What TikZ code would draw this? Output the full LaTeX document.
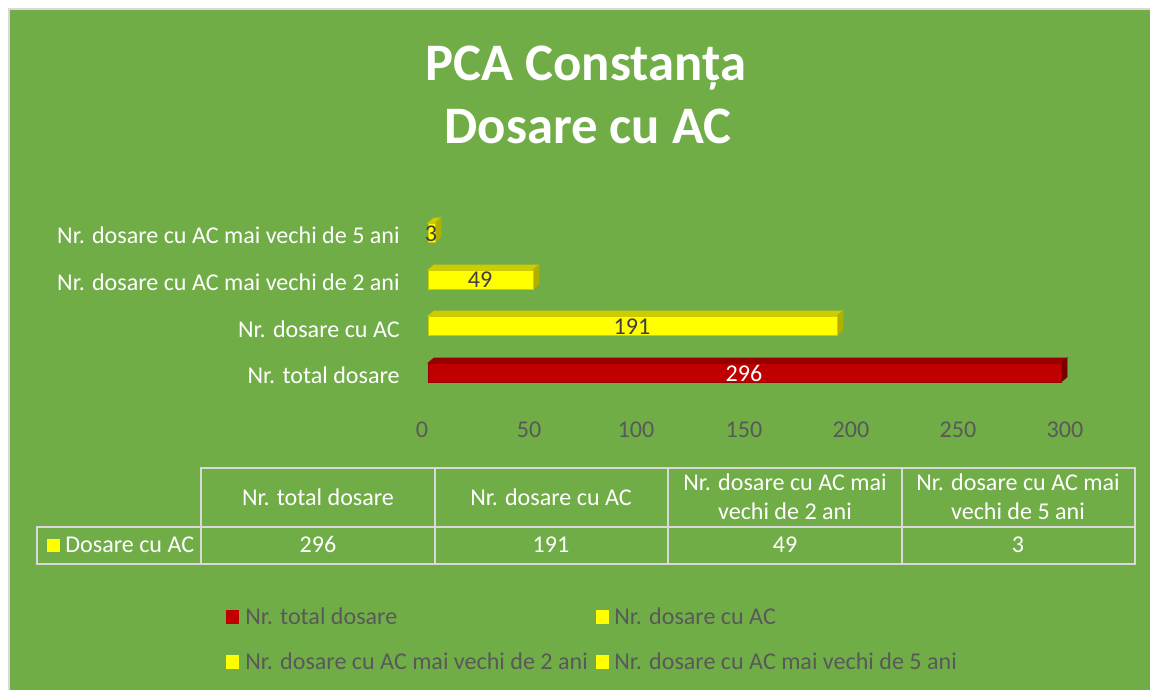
\documentclass[tikz,border=0pt]{standalone}
\usepackage{fontspec}
\setmainfont{Carlito}
\usetikzlibrary{calc}
\definecolor{chartgreen}{HTML}{70AD47}
\definecolor{framegray}{HTML}{D9D9D9}
\definecolor{axisgray}{HTML}{595959}
\definecolor{valgray}{HTML}{404040}
\definecolor{barred}{HTML}{C00000}
\definecolor{barredtop}{HTML}{960000}
\definecolor{barredside}{HTML}{7A0000}
\definecolor{baryellow}{HTML}{FFFF00}
\definecolor{baryellowtop}{HTML}{CCCC00}
\definecolor{baryellowside}{HTML}{B0B000}
% 3D bar: [front:top:side](y of top edge)(x of right edge)
\def\barbox[#1:#2:#3](#4)(#5){
	\draw[fill=#2, draw=#2] (428,#4) -- (434,#4-5) -- (#5+6,#4-5) -- (#5,#4) -- cycle;
	\draw[fill=#3, draw=#3] (#5,#4) -- (#5+6,#4-5) -- (#5+6,#4+14) -- (#5,#4+19) -- cycle;
	\draw[fill=#1, draw=#2] (428,#4) rectangle (#5,#4+19);
}
\tikzset{
	catlabel/.style={anchor=base east, text=white, font=\fontsize{13.7}{16}\selectfont, inner sep=0pt},
	ticklabel/.style={anchor=base, text=axisgray, font=\fontsize{13.7}{16}\selectfont, inner sep=0pt},
	vallabel/.style={anchor=base, text=valgray, font=\fontsize{13.7}{16}\selectfont, inner sep=0pt},
	celltext/.style={text=white, font=\fontsize{13.7}{16.4}\selectfont, align=center, inner sep=0pt},
	datatext/.style={anchor=base, text=white, font=\fontsize{13.7}{16}\selectfont, inner sep=0pt},
	legtext/.style={anchor=west, text=axisgray, font=\fontsize{13.7}{16}\selectfont, inner sep=0pt},
	titletext/.style={anchor=base, text=white, font=\fontsize{30}{36}\selectfont\bfseries, inner sep=0pt}
}
\begin{document}
\begin{tikzpicture}[x=0.02cm, y=-0.02cm]
			%%%%% START %%%%%
			
			\useasboundingbox (0,0) rectangle (1150,690);
			\fill[white] (0,0) rectangle (1150,690);
			\draw[fill=chartgreen, draw=framegray, line width=0.8pt] (9,9) rectangle (1152,692);
			
			% title
			\node[titletext] (title1) at (586,80) {PCA Constanța};
			\node[titletext] (title2) at (588,143) {Dosare cu AC};
			
			% bars
			\barbox[baryellow:baryellowtop:baryellowside](223)(435);
			\barbox[baryellow:baryellowtop:baryellowside](270)(533);
			\barbox[baryellow:baryellowtop:baryellowside](316)(837);
			\barbox[barred:barredtop:barredside](363)(1061);
			
			\node[vallabel] (val5) at (431,241) {3};
			\node[vallabel] (val2) at (480,287) {49};
			\node[vallabel] (valac) at (632,334) {191};
			\node[vallabel, text=white] (valtot) at (744,381) {296};
			
			% categories
			\node[catlabel] (cat5) at (400,243) {Nr. dosare cu AC mai vechi de 5 ani};
			\node[catlabel] (cat2) at (400,290) {Nr. dosare cu AC mai vechi de 2 ani};
			\node[catlabel] (catac) at (400,337) {Nr. dosare cu AC};
			\node[catlabel] (cattot) at (400,383) {Nr. total dosare};
			
			% axis
			\node[ticklabel] (t0) at (422,437) {0};
			\node[ticklabel] (t50) at (529,437) {50};
			\node[ticklabel] (t100) at (636,437) {100};
			\node[ticklabel] (t150) at (744,437) {150};
			\node[ticklabel] (t200) at (851,437) {200};
			\node[ticklabel] (t250) at (958,437) {250};
			\node[ticklabel] (t300) at (1065,437) {300};
			
			% data table
			\draw[framegray, line width=0.9pt] (201,468) rectangle (1135,527);
			\draw[framegray, line width=0.9pt] (37,527) rectangle (1135,564);
			\draw[framegray, line width=0.9pt] (201,527) -- (201,564);
			\draw[framegray, line width=0.9pt] (435,468) -- (435,564);
			\draw[framegray, line width=0.9pt] (668,468) -- (668,564);
			\draw[framegray, line width=0.9pt] (902,468) -- (902,564);
			
			\node[celltext] (h1) at (318,497) {Nr. total dosare};
			\node[celltext] (h2) at (551,497) {Nr. dosare cu AC};
			\node[celltext] (h3) at (785,497) {Nr. dosare cu AC mai\\vechi de 2 ani};
			\node[celltext] (h4) at (1018,497) {Nr. dosare cu AC mai\\vechi de 5 ani};
			
			\draw[fill=baryellow, draw=baryellow] (47,539) rectangle (59,551);
			\node[legtext, text=white] (rowlab) at (65,545) {Dosare cu AC};
			\node[datatext] (d1) at (318,552) {296};
			\node[datatext] (d2) at (551,552) {191};
			\node[datatext] (d3) at (785,552) {49};
			\node[datatext] (d4) at (1018,552) {3};
			
			% legend
			\draw[fill=barred, draw=barred] (226,610) rectangle (238,623);
			\node[legtext] (leg1) at (245,616) {Nr. total dosare};
			\draw[fill=baryellow, draw=baryellow] (596,610) rectangle (608,623);
			\node[legtext] (leg2) at (614,616) {Nr. dosare cu AC};
			\draw[fill=baryellow, draw=baryellow] (226,655) rectangle (238,668);
			\node[legtext] (leg3) at (245,661) {Nr. dosare cu AC mai vechi de 2 ani};
			\draw[fill=baryellow, draw=baryellow] (596,655) rectangle (608,668);
			\node[legtext] (leg4) at (614,661) {Nr. dosare cu AC mai vechi de 5 ani};
			
			%%%%% END %%%%%
		\end{tikzpicture}
\end{document}
